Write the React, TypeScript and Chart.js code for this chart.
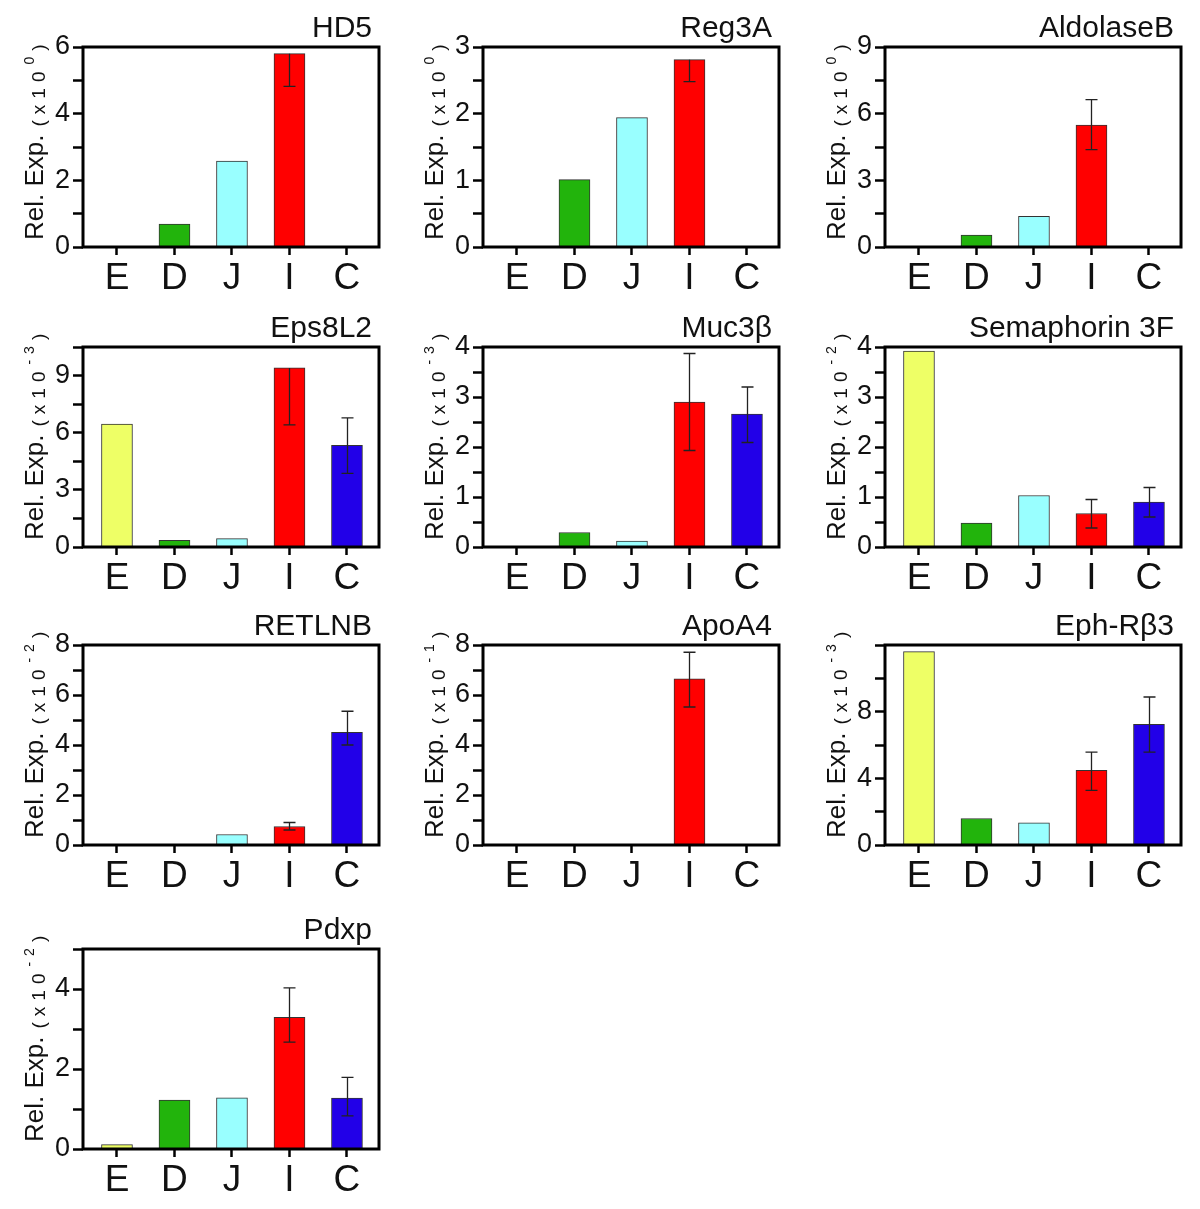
import React, { useEffect, useRef } from 'react';
import { Chart, registerables } from 'chart.js';

Chart.register(...registerables);

// ---------- data ----------
const categories = ['E', 'D', 'J', 'I', 'C'];
const barColors = ['#EEFF66', '#22B40C', '#99FFFF', '#FF0000', '#2200E8'];

const hd5Values = [0, 0.69, 2.58, 5.8, 0];
const hd5Low = [null, null, null, 4.82, null];
const hd5High = [null, null, null, 5.8, null];
const hd5Ticks = [0, 2, 4, 6];

const reg3aValues = [0, 1.01, 1.94, 2.81, 0];
const reg3aLow = [null, null, null, 2.48, null];
const reg3aHigh = [null, null, null, 2.81, null];
const reg3aTicks = [0, 1, 2, 3];

const aldoValues = [0, 0.54, 1.38, 5.49, 0];
const aldoLow = [null, null, null, 4.38, null];
const aldoHigh = [null, null, null, 6.63, null];
const aldoTicks = [0, 3, 6, 9];

const eps8Values = [6.45, 0.35, 0.44, 9.4, 5.34];
const eps8Low = [null, null, null, 6.41, 3.87];
const eps8High = [null, null, null, 9.4, 6.78];
const eps8Ticks = [0, 3, 6, 9];

const muc3Values = [0, 0.29, 0.12, 2.9, 2.66];
const muc3Low = [null, null, null, 1.93, 2.09];
const muc3High = [null, null, null, 3.87, 3.2];
const muc3Ticks = [0, 1, 2, 3, 4];

const semaValues = [3.92, 0.48, 1.03, 0.67, 0.9];
const semaLow = [null, null, null, 0.38, 0.6];
const semaHigh = [null, null, null, 0.95, 1.19];
const semaTicks = [0, 1, 2, 3, 4];

const retlnbValues = [0, 0, 0.42, 0.74, 4.51];
const retlnbLow = [null, null, null, 0.6, 4.0];
const retlnbHigh = [null, null, null, 0.9, 5.35];
const retlnbTicks = [0, 2, 4, 6, 8];

const apoValues = [0, 0, 0, 6.65, 0];
const apoLow = [null, null, null, 5.52, null];
const apoHigh = [null, null, null, 7.71, null];
const apoTicks = [0, 2, 4, 6, 8];

const ephValues = [11.6, 1.59, 1.33, 4.48, 7.24];
const ephLow = [null, null, null, 3.28, 5.57];
const ephHigh = [null, null, null, 5.57, 8.88];
const ephTicks = [0, 4, 8];

const pdxpValues = [0.11, 1.22, 1.28, 3.29, 1.27];
const pdxpLow = [null, null, null, 2.67, 0.83];
const pdxpHigh = [null, null, null, 4.03, 1.79];
const pdxpTicks = [0, 2, 4];

const geneNames = ['HD5', 'Reg3A', 'AldolaseB', 'Eps8L2', 'Muc3\u03B2', 'Semaphorin 3F', 'RETLNB', 'ApoA4', 'Eph-R\u03B23', 'Pdxp'];
const exponents = ['0', '0', '0', '-3', '-3', '-2', '-2', '-1', '-3', '-2'];
const yMaxes = [6, 3, 9, 10.5, 4, 4, 8, 8, 12, 5];
const yMinorSteps = [1, 0.5, 1.5, 1.5, 0.5, 0.5, 1, 1, 2, 1];

const panelValues = [hd5Values, reg3aValues, aldoValues, eps8Values, muc3Values, semaValues, retlnbValues, apoValues, ephValues, pdxpValues];
const panelLows = [hd5Low, reg3aLow, aldoLow, eps8Low, muc3Low, semaLow, retlnbLow, apoLow, ephLow, pdxpLow];
const panelHighs = [hd5High, reg3aHigh, aldoHigh, eps8High, muc3High, semaHigh, retlnbHigh, apoHigh, ephHigh, pdxpHigh];
const panelTicks = [hd5Ticks, reg3aTicks, aldoTicks, eps8Ticks, muc3Ticks, semaTicks, retlnbTicks, apoTicks, ephTicks, pdxpTicks];

// ---------- layout (styles) ----------
const colLefts = [0, 400, 802];
const rowTops = [0, 300, 598, 902];
const CW = 400;
const CH = 300;
const FONT = '"Liberation Sans", Arial, Helvetica, sans-serif';
const NARROW = '"Liberation Sans Narrow", "Liberation Sans", Arial, sans-serif';

function Panel({ idx }: { idx: number }) {
  const ref = useRef<HTMLCanvasElement | null>(null);
  useEffect(() => {
    const canvas = ref.current;
    if (!canvas) return;
    const values = panelValues[idx];
    const lows = panelLows[idx];
    const highs = panelHighs[idx];
    const tickLabels = panelTicks[idx];
    const name = geneNames[idx];
    const expo = exponents[idx];

    const decor = {
      id: 'decor' + idx,
      afterDatasetsDraw(chart: any) {
        const { ctx, chartArea: a, scales } = chart;
        const xs = scales.x;
        const ys = scales.y;
        ctx.save();
        ctx.beginPath();
        ctx.rect(a.left, a.top, a.right - a.left, a.bottom - a.top);
        ctx.clip();
        ctx.strokeStyle = '#222';
        ctx.lineWidth = 1.3;
        values.forEach((v: number, i: number) => {
          const lo = lows[i];
          const hi = highs[i];
          if (lo == null || hi == null) return;
          const cx = Math.round(xs.getPixelForValue(i)) + 0.5;
          const yl = ys.getPixelForValue(lo);
          const yh = ys.getPixelForValue(hi);
          ctx.beginPath();
          ctx.moveTo(cx, yl);
          ctx.lineTo(cx, yh);
          ctx.moveTo(cx - 6, yl);
          ctx.lineTo(cx + 6, yl);
          if (hi > v) {
            ctx.moveTo(cx - 6, yh);
            ctx.lineTo(cx + 6, yh);
          }
          ctx.stroke();
        });
        ctx.restore();
      },
      afterDraw(chart: any) {
        const { ctx, chartArea: a } = chart;
        ctx.save();
        // frame
        ctx.strokeStyle = '#000';
        ctx.lineWidth = 3;
        ctx.strokeRect(a.left, a.top, a.right - a.left, a.bottom - a.top);
        // title
        ctx.fillStyle = '#111';
        ctx.font = '30px ' + FONT;
        ctx.textAlign = 'right';
        ctx.textBaseline = 'alphabetic';
        ctx.fillText(name, a.right - 7, a.top - 10);
        // y axis label
        ctx.translate(43, a.bottom - 7);
        ctx.rotate(-Math.PI / 2);
        ctx.textAlign = 'left';
        ctx.font = '26px ' + FONT;
        ctx.fillText('Rel. Exp.', 0, 0);
        let xpos = ctx.measureText('Rel. Exp.').width + 8;
        (ctx as any).letterSpacing = '6px';
        ctx.font = '19px ' + FONT;
        ctx.fillText('(x10', xpos, 2);
        xpos += ctx.measureText('(x10').width + 1;
        ctx.font = '14px ' + FONT;
        ctx.fillText(expo, xpos, -9);
        xpos += ctx.measureText(expo).width;
        ctx.font = '19px ' + FONT;
        ctx.fillText(')', xpos, 2);
        ctx.restore();
      },
    };

    const chart = new Chart(canvas, {
      type: 'bar',
      data: {
        datasets: [
          {
            data: values.map((v: number, i: number) => ({ x: i, y: v })),
            backgroundColor: barColors,
            borderColor: '#333',
            borderWidth: 1,
            barThickness: 31,
          } as any,
        ],
      },
      options: {
        animation: false,
        responsive: false,
        devicePixelRatio: 1,
        layout: { padding: { top: 47, right: 21, left: 0, bottom: 0 } },
        plugins: { legend: { display: false }, tooltip: { enabled: false }, title: { display: false } },
        scales: {
          x: {
            type: 'linear',
            offset: false,
            min: -0.591,
            max: 4.557,
            afterBuildTicks: (axis: any) => {
              axis.ticks = categories.map((_, i) => ({ value: i }));
            },
            afterFit: (axis: any) => {
              axis.height = 53;
            },
            border: { display: false },
            grid: {
              offset: false,
              drawOnChartArea: false,
              drawTicks: true,
              tickLength: 8,
              tickWidth: 2.5,
              tickColor: '#000',
            },
            ticks: {
              autoSkip: false,
              maxRotation: 0,
              padding: 2,
              color: '#111',
              font: { family: NARROW, size: 37 },
              callback: (v: any) => categories[Math.round(Number(v))] ?? '',
            },
          },
          y: {
            min: 0,
            max: yMaxes[idx],
            afterFit: (axis: any) => {
              axis.width = 83;
            },
            border: { display: false },
            grid: {
              drawOnChartArea: false,
              drawTicks: true,
              tickLength: 10,
              tickWidth: 2.5,
              tickColor: '#000',
            },
            ticks: {
              stepSize: yMinorSteps[idx],
              autoSkip: false,
              padding: 3,
              color: '#111',
              font: { family: FONT, size: 27 },
              callback: (v: any) => {
                const n = Number(v);
                return tickLabels.some((t: number) => Math.abs(t - n) < 1e-6) ? String(Math.round(n)) : '';
              },
            },
          },
        },
      } as any,
      plugins: [decor],
    });
    return () => chart.destroy();
  }, [idx]);

  const col = idx % 3;
  const row = Math.floor(idx / 3);
  return (
    <canvas
      ref={ref}
      width={CW}
      height={CH}
      style={{ position: 'absolute', left: colLefts[col], top: rowTops[row], width: CW, height: CH }}
    />
  );
}

export default function App() {
  return (
    <div style={{ position: 'absolute', left: 0, top: 0, width: 1200, height: 1205, background: '#fff', overflow: 'hidden' }}>
      {geneNames.map((_, i) => (
        <Panel key={i} idx={i} />
      ))}
    </div>
  );
}
